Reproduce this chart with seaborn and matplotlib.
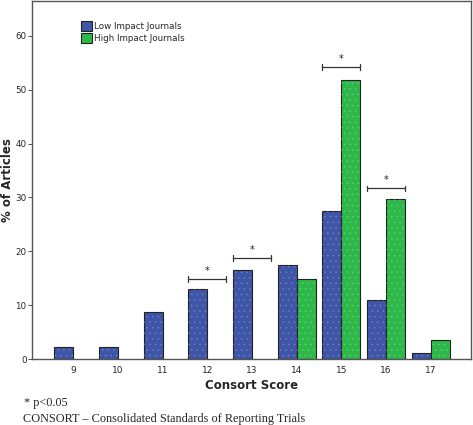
import matplotlib
matplotlib.use("Agg")
import matplotlib.pyplot as plt
from matplotlib.patches import Rectangle
import seaborn as sns
import pandas as pd

scores = ["9", "10", "11", "12", "13", "14", "15", "16", "17"]
low_impact = [2.3, 2.3, 8.7, 13.1, 16.5, 17.5, 27.5, 11.0, 1.1]
high_impact = [None, None, None, None, None, 14.8, 51.9, 29.7, 3.6]
series_names = ["Low Impact Journals", "High Impact Journals"]
sig_scores = ["12", "13", "15", "16"]
sig_heights = [14.9, 18.8, 54.2, 31.7]
y_ticks = [0, 10, 20, 30, 40, 50, 60]

rows = []
for s, lo, hi in zip(scores, low_impact, high_impact):
    rows.append({"score": s, "journal": series_names[0], "pct": lo})
    rows.append({"score": s, "journal": series_names[1], "pct": hi})
df = pd.DataFrame(rows)

sns.set_style("white")
plt.rcParams['font.family'] = ['DejaVu Sans']
plt.rcParams['hatch.linewidth'] = 0.4

fig = plt.figure(figsize=(4.73, 4.25), dpi=100)
ax = fig.add_axes([0.068, 0.155, 0.928, 0.843])

blue = "#3f55a8"
green = "#2eb84a"
sns.barplot(data=df, x="score", y="pct", hue="journal", order=scores,
            hue_order=series_names, palette=[blue, green], width=0.85,
            ax=ax, edgecolor="#222222", linewidth=0.8, saturation=1)

# subtle dotted texture overlay
for bar in list(ax.patches):
    if bar.get_height() and bar.get_height() > 0:
        ov = Rectangle(bar.get_xy(), bar.get_width(), bar.get_height(),
                       facecolor="none", edgecolor=(1, 1, 1, 0.2),
                       hatch="...", linewidth=0, zorder=bar.get_zorder() + 0.1)
        ax.add_patch(ov)

ax.set_xlim(-0.92, 8.9)
ax.set_ylim(0, 66.5)
ax.set_yticks(y_ticks)
ax.set_yticklabels([str(t) for t in y_ticks])
ax.tick_params(axis="y", length=3, width=0.6, labelsize=6.3, pad=1, left=True, color="#333333")
ax.tick_params(axis="x", length=0, labelsize=6.5, pad=5)
for sp in ax.spines.values():
    sp.set_visible(True)
    sp.set_color("#555555")
    sp.set_linewidth(1.0)

ax.set_xlabel("Consort Score", fontsize=8.5, fontweight="bold", labelpad=3)
ax.set_ylabel("% of Articles", fontsize=8.5, fontweight="bold")
ax.yaxis.set_label_coords(-0.041, 0.5)

# significance brackets
for s, h in zip(sig_scores, sig_heights):
    xi = scores.index(s)
    x0, x1 = xi - 0.425, xi + 0.425
    ax.plot([x0, x1], [h, h], color="#333333", lw=0.9)
    ax.plot([x0, x0], [h - 0.5, h + 0.5], color="#333333", lw=0.9)
    ax.plot([x1, x1], [h - 0.5, h + 0.5], color="#333333", lw=0.9)
    ax.text(xi, h + 0.6, "*", ha="center", va="bottom", fontsize=7, color="#222222")

leg = ax.legend(loc="upper left", bbox_to_anchor=(0.104, 0.953), frameon=False,
                fontsize=6.3, handlelength=1.2, handleheight=1.3,
                handletextpad=0.25, labelspacing=0.25, borderaxespad=0)

fig.text(0.051, 0.051, "* p<0.05", fontsize=8.8, family="Liberation Serif", va="center")
fig.text(0.049, 0.014, "CONSORT \u2013 Consolidated Standards of Reporting Trials",
         fontsize=8.8, family="Liberation Serif", va="center")

fig.savefig("out.png", dpi=100)
